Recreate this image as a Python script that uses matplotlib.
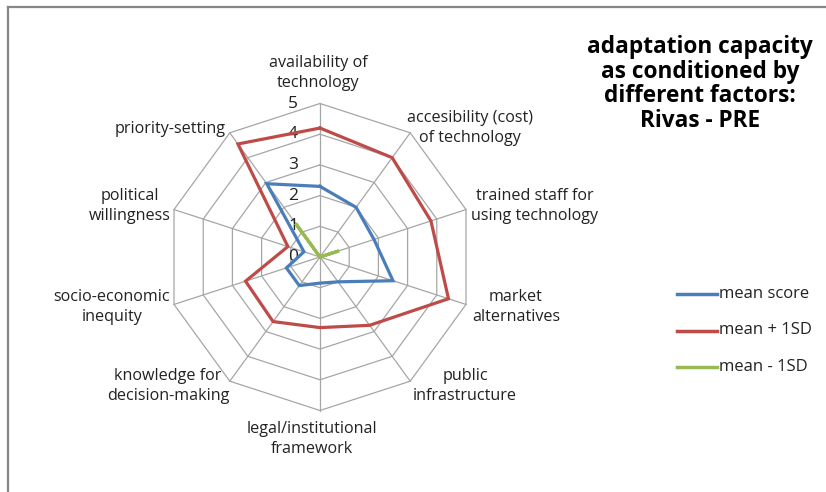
import numpy as np
import matplotlib.pyplot as plt

categories = ["availability of\ntechnology", "accesibility (cost)\nof technology",
              "trained staff for\nusing technology", "market\nalternatives",
              "public\ninfrastructure", "legal/institutional\nframework",
              "knowledge for\ndecision-making", "socio-economic\ninequity",
              "political\nwillingness", "priority-setting"]
mean_score = [2.3, 2.0, 1.85, 2.5, 1.0, 0.85, 1.15, 1.15, 0.55, 2.95]
mean_plus = [4.2, 4.0, 3.8, 4.4, 2.75, 2.3, 2.6, 2.55, 1.1, 4.55]
mean_minus = [0, 0, 0.65, 0, 0, 0, 0, 0, 0, 1.35]
ticks = [0, 1, 2, 3, 4, 5]

plt.rcParams['font.family'] = ['Open Sans', 'DejaVu Sans']

W, H = 826, 492
cx, cy, unit = 320, 257, 30.7   # centre of the web in pixels, px per unit

fig = plt.figure(figsize=(W / 100, H / 100), dpi=100)
ax = fig.add_axes([0, 0, 1, 1])
ax.set_xlim(-cx / unit, (W - cx) / unit)
ax.set_ylim(-(H - cy) / unit, cy / unit)
ax.axis('off')

n = len(categories)
ang = np.arange(n) * 2 * np.pi / n
def xy(r):
    r = np.asarray(r, dtype=float)
    return r * np.sin(ang), r * np.cos(ang)

# web
grid_c = '#a6a6a6'
for t in ticks[1:]:
    gx, gy = xy([t] * n)
    ax.plot(np.append(gx, gx[0]), np.append(gy, gy[0]), color=grid_c, lw=0.9, zorder=1)
for a in ang:
    ax.plot([0, 5 * np.sin(a)], [0, 5 * np.cos(a)], color=grid_c, lw=0.9, zorder=1)

for t in ticks:
    ax.text(-0.88, t, str(t), fontsize=12.5, ha='center', va='center', color='#222222')

# series
series = [(mean_score, '#4a7ebb', 'mean score'),
          (mean_plus, '#be4b48', 'mean + 1SD'),
          (mean_minus, '#98b954', 'mean - 1SD')]
for vals, col, lab in series:
    sx, sy = xy(vals)
    ax.plot(np.append(sx, sx[0]), np.append(sy, sy[0]), color=col, lw=2.3,
            solid_joinstyle='miter', zorder=3, label=lab)

# category labels (pixel positions of label centres)
lab_pos = [(318, 73), (470, 128), (535, 206), (516, 307), (465, 386),
           (312, 439), (168, 386), (112, 307), (130, 206), (170, 129)]
for txt, (px, py) in zip(categories, lab_pos):
    ax.text((px - cx) / unit, (cy - py) / unit, txt, fontsize=11.6, ha='center',
            va='center', color='#222222', linespacing=1.3)

ax.text((700 - cx) / unit, (cy - 84) / unit,
        "adaptation capacity\nas conditioned by\ndifferent factors:\nRivas - PRE",
        fontsize=16.3, fontweight='bold', ha='center', va='center', linespacing=1.05)

# legend
for i, (vals, col, lab) in enumerate(series):
    ly = (cy - (294 + 36.5 * i)) / unit
    ax.plot([(677 - cx) / unit, (717 - cx) / unit], [ly, ly], color=col, lw=2.5)
    ax.text((719 - cx) / unit, ly, lab, fontsize=12, ha='left', va='center', color='#222222')

# chart border (top and left visible)
ax.plot([(8 - cx) / unit, (W + 5 - cx) / unit], [(cy - 7) / unit] * 2, color='#878787', lw=1.6,
        clip_on=False)
ax.plot([(8 - cx) / unit] * 2, [(cy - 7) / unit, -(H + 5 - cy) / unit], color='#878787', lw=1.6,
        clip_on=False)

fig.savefig('out.png', dpi=100, facecolor='white')
